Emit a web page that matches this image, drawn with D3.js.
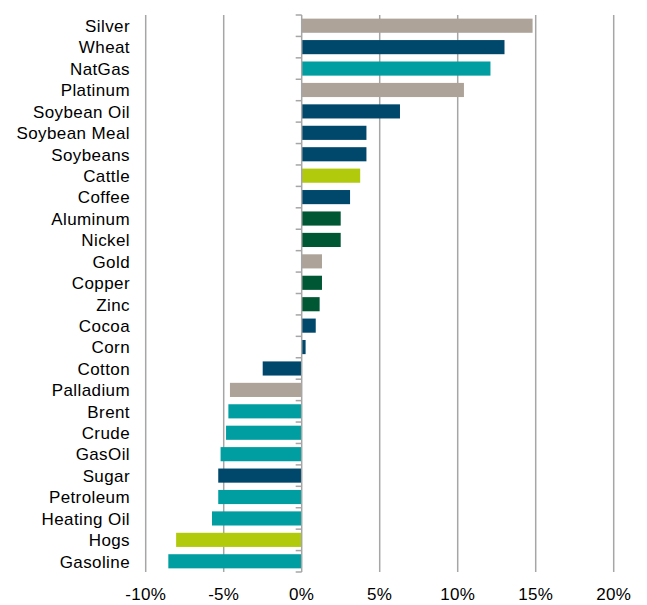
<!DOCTYPE html>
<html>
<head>
<meta charset="utf-8">
<script src="https://cdn.jsdelivr.net/npm/d3@7"></script>
<style>
html,body{margin:0;padding:0;background:#fff;}
svg{display:block;}
</style>
</head>
<body>
<svg id="chart" width="647" height="605"></svg>
<script>
const categories = ["Silver","Wheat","NatGas","Platinum","Soybean Oil","Soybean Meal","Soybeans","Cattle","Coffee","Aluminum","Nickel","Gold","Copper","Zinc","Cocoa","Corn","Cotton","Palladium","Brent","Crude","GasOil","Sugar","Petroleum","Heating Oil","Hogs","Gasoline"];
const values = [14.8,13.0,12.1,10.4,6.3,4.15,4.15,3.75,3.1,2.5,2.5,1.3,1.3,1.15,0.9,0.25,-2.5,-4.6,-4.7,-4.85,-5.2,-5.35,-5.35,-5.75,-8.05,-8.55];
const groups = ["precious","grain","energy","precious","grain","grain","grain","livestock","grain","metal","metal","precious","metal","metal","grain","grain","grain","precious","energy","energy","energy","grain","energy","energy","livestock","energy"];
const tickValues = [-10,-5,0,5,10,15,20];

const colorMap = {precious:"#ADA398", grain:"#00486B", energy:"#009EA1", livestock:"#B1CA0C", metal:"#005734"};

const svg = d3.select("#chart");
const x = d3.scaleLinear().domain([-10,20]).range([145.7,613.7]);
const y = d3.scaleBand().domain(categories).range([15,572]).paddingInner(0.34).paddingOuter(0.17);

// gridlines
svg.append("g").selectAll("line").data(tickValues.filter(d=>d!==0)).join("line")
  .attr("x1",d=>x(d)).attr("x2",d=>x(d)).attr("y1",15).attr("y2",572)
  .attr("stroke","#A6A6A6").attr("stroke-width",1.5);

// bars
svg.append("g").selectAll("rect").data(categories).join("rect")
  .attr("x",(d,i)=>x(Math.min(0,values[i])))
  .attr("width",(d,i)=>Math.abs(x(values[i])-x(0)))
  .attr("y",d=>y(d)).attr("height",y.bandwidth())
  .attr("fill",(d,i)=>colorMap[groups[i]]);

// zero axis with ticks at band boundaries
const x0 = x(0);
svg.append("line").attr("x1",x0).attr("x2",x0).attr("y1",15).attr("y2",572)
  .attr("stroke","#A6A6A6").attr("stroke-width",1.5);
const bounds = d3.range(categories.length+1).map(i=>15 + i*(557/categories.length));
svg.append("g").selectAll("line").data(bounds).join("line")
  .attr("x1",x0-6).attr("x2",x0).attr("y1",d=>d).attr("y2",d=>d)
  .attr("stroke","#A6A6A6").attr("stroke-width",1.5);

// category labels
svg.append("g").selectAll("text").data(categories).join("text")
  .attr("x",130).attr("y",d=>y(d)+y.bandwidth()/2+6.3)
  .attr("text-anchor","end")
  .attr("font-family","Liberation Sans, Arial, sans-serif").attr("font-size",17)
  .attr("letter-spacing",0.4)
  .attr("fill","#000").text(d=>d);

// x tick labels
svg.append("g").selectAll("text").data(tickValues).join("text")
  .attr("x",d=>x(d)).attr("y",600)
  .attr("text-anchor","middle")
  .attr("font-family","Liberation Sans, Arial, sans-serif").attr("font-size",17)
  .attr("letter-spacing",0.3)
  .attr("fill","#000").text(d=>String(d)+"%");
</script>
</body>
</html>
